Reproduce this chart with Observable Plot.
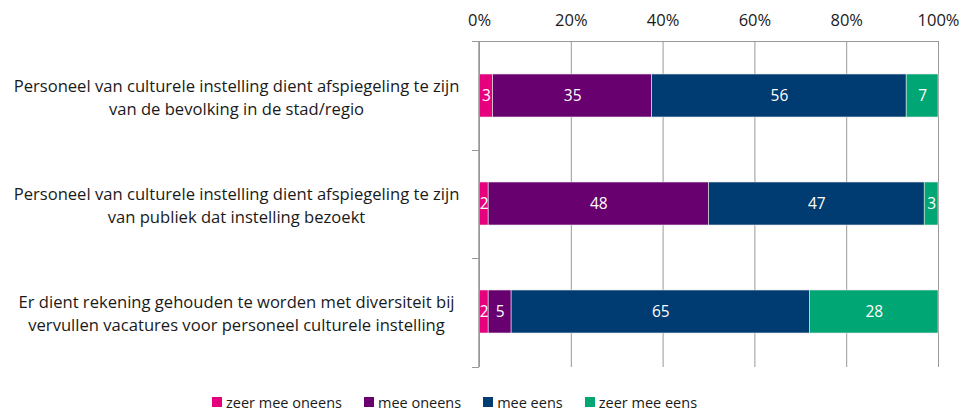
<!DOCTYPE html>
<html><head><meta charset="utf-8">
<script src="https://cdn.jsdelivr.net/npm/d3@7"></script>
<script src="https://cdn.jsdelivr.net/npm/@observablehq/plot@0.6"></script>
<style>
body{margin:0;background:#fff;font-family:"Open Sans",sans-serif;}
#legend{display:flex;height:34px;align-items:center;padding-left:212px;font-size:14.5px;color:#1a1a1a}
.item{display:flex;align-items:center;margin-right:22px}
.sw{width:10px;height:10px;margin-right:4px}
</style></head><body><div id="chart"></div><div id="legend"></div>
<script>
const categories = [
  "Personeel van culturele instelling dient afspiegeling te zijn\nvan de bevolking in de stad/regio",
  "Personeel van culturele instelling dient afspiegeling te zijn\nvan publiek dat instelling bezoekt",
  "Er dient rekening gehouden te worden met diversiteit bij\nvervullen vacatures voor personeel culturele instelling"
];
const responses = ["zeer mee oneens", "mee oneens", "mee eens", "zeer mee eens"];
const colors = ["#e6007e", "#680070", "#003c71", "#00a673"];
const zeerMeeOneens = [3, 2, 2];
const meeOneens = [35, 48, 5];
const meeEens = [56, 47, 65];
const zeerMeeEens = [7, 3, 28];
const xTicks = [0, 0.2, 0.4, 0.6, 0.8, 1];

const series = [zeerMeeOneens, meeOneens, meeEens, zeerMeeEens];
const data = [];
categories.forEach((c, i) => {
  responses.forEach((r, j) => data.push({cat: c, resp: r, value: series[j][i]}));
});

const axisColor = "#999";

function frameLines(index, scales, values, dim) {
  const g = d3.create("svg:g").attr("stroke", axisColor).attr("fill", "none");
  const x0 = dim.marginLeft, x1 = dim.width - dim.marginRight;
  const y0 = dim.marginTop, y1 = dim.height - dim.marginBottom;
  g.append("line").attr("x1", x0 - 7).attr("x2", x1).attr("y1", y0 + 0.5).attr("y2", y0 + 0.5);
  g.append("line").attr("x1", x0).attr("x2", x0).attr("y1", y0).attr("y2", y1).attr("stroke-width", 1.5);
  const step = (y1 - y0) / categories.length;
  for (let k = 0; k <= categories.length; k++) {
    const yy = Math.round(y0 + k * step) + 0.5;
    g.append("line").attr("x1", x0 - 7).attr("x2", x0).attr("y1", yy).attr("y2", yy);
  }
  return g.node();
}

const stackOpts = {x: "value", y: "cat", z: "resp", offset: "normalize", order: responses};

const chart = Plot.plot({
  width: 962,
  height: 385,
  marginLeft: 479,
  marginRight: 24,
  marginTop: 41,
  marginBottom: 18,
  style: {fontFamily: "Open Sans, sans-serif", fontSize: "14px", color: "#1a1a1a", background: "#fff"},
  x: {domain: [0, 1], ticks: xTicks, tickFormat: d3.format(".0%")},
  y: {domain: categories, paddingInner: 0.6, paddingOuter: 0.3, axis: null},
  color: {domain: responses, range: colors},
  marks: [
    Plot.gridX(xTicks, {stroke: axisColor, strokeOpacity: 1}),
    Plot.axisX(xTicks, {anchor: "top", tickSize: 0, tickPadding: 16, fontSize: 16.5, tickFormat: d3.format(".0%"), label: null}),
    Plot.barX(data, Plot.stackX({...stackOpts, fill: "resp", stroke: "#e8e8e8", strokeWidth: 0.6})),
    Plot.text(data, Plot.stackX({...stackOpts, text: "value", fill: "white", fontSize: 15.5})),
    Plot.text(categories, {y: d => d, frameAnchor: "left", dx: -243, textAnchor: "middle", lineHeight: 1.37, fontSize: 16.6, fill: "#1a1a1a"}),
    frameLines
  ]
});
document.getElementById("chart").appendChild(chart);

const legend = document.getElementById("legend");
responses.forEach((r, i) => {
  const item = document.createElement("div");
  item.className = "item";
  const sw = document.createElement("span");
  sw.className = "sw";
  sw.style.background = colors[i];
  const t = document.createElement("span");
  t.textContent = r;
  item.appendChild(sw); item.appendChild(t);
  legend.appendChild(item);
});
</script></body></html>
